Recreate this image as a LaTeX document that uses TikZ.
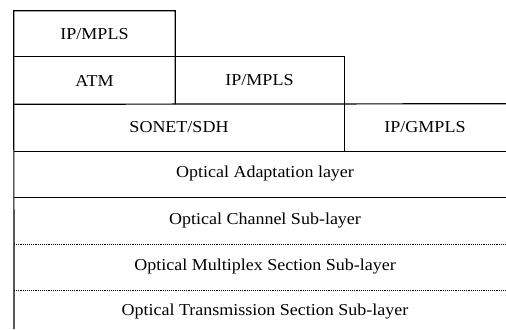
\documentclass[tikz,border=0pt]{standalone}
\usepackage{fontspec}
\setmainfont[FakeStretch=1.08]{Liberation Serif}
\usepackage{tikz}
\usetikzlibrary{positioning}

\begin{document}
\begin{tikzpicture}[x=0.75pt,y=-0.75pt]
    \tikzstyle{layer}=[inner sep=0pt, minimum height=34.5pt, font=\fontsize{12.5}{14}\selectfont]
    \tikzstyle{solid_edge}=[line width=0.9pt]
    \tikzstyle{sub_edge}=[line width=0.6pt, dash pattern=on 0.7pt off 0.7pt]
    \useasboundingbox (0,0) rectangle (506,329);
    \coordinate (bottom) at (14,329);
    % Client layers
    \node[layer, minimum width=120.75pt] (top_ip) at (94.5,34) {IP/MPLS};
    \node[layer, minimum width=120.75pt, minimum height=35.25pt] (atm) at (94.5,80.5) {ATM};
    \node[layer, minimum width=126.75pt, minimum height=35.25pt] (mid_ip) at (259.5,80.5) {IP/MPLS};
    \node[layer, minimum width=247.5pt, minimum height=35.25pt] (sonet) at (179,127.5) {SONET/SDH};
    \node[layer, minimum width=121.5pt, minimum height=35.25pt] (gmpls) at (425,127.5) {IP/GMPLS};
    % Optical layers
    \node[layer, minimum width=361.5pt] (adapt) at (265,174) {Optical Adaptation layer};
    \node[layer, minimum width=361.5pt, minimum height=35.25pt] (och) at (265,220.5) {Optical Channel Sub-layer};
    \node[layer, minimum width=361.5pt] (oms) at (265,267) {Optical Multiplex Section Sub-layer};
    \node[layer, minimum width=361.5pt] (ots) at (265,312) {Optical Transmission Section Sub-layer};
    % Draw the boxes
    \draw[solid_edge] (bottom) -- (top_ip.north west) -- (top_ip.north east) -- (atm.south east);
    \draw[solid_edge] (atm.north west) -- (mid_ip.north east) -- (sonet.south east);
    \draw[solid_edge] (atm.south west) -- (gmpls.north east);
    \draw[solid_edge] (sonet.south west) -- (gmpls.south east);
    \draw[solid_edge] (bottom |- adapt.south) -- (adapt.south east);
    \draw[sub_edge] (bottom |- och.south) -- (och.south east);
    \draw[sub_edge] (bottom |- oms.south) -- (oms.south east);
\end{tikzpicture}
\end{document}
